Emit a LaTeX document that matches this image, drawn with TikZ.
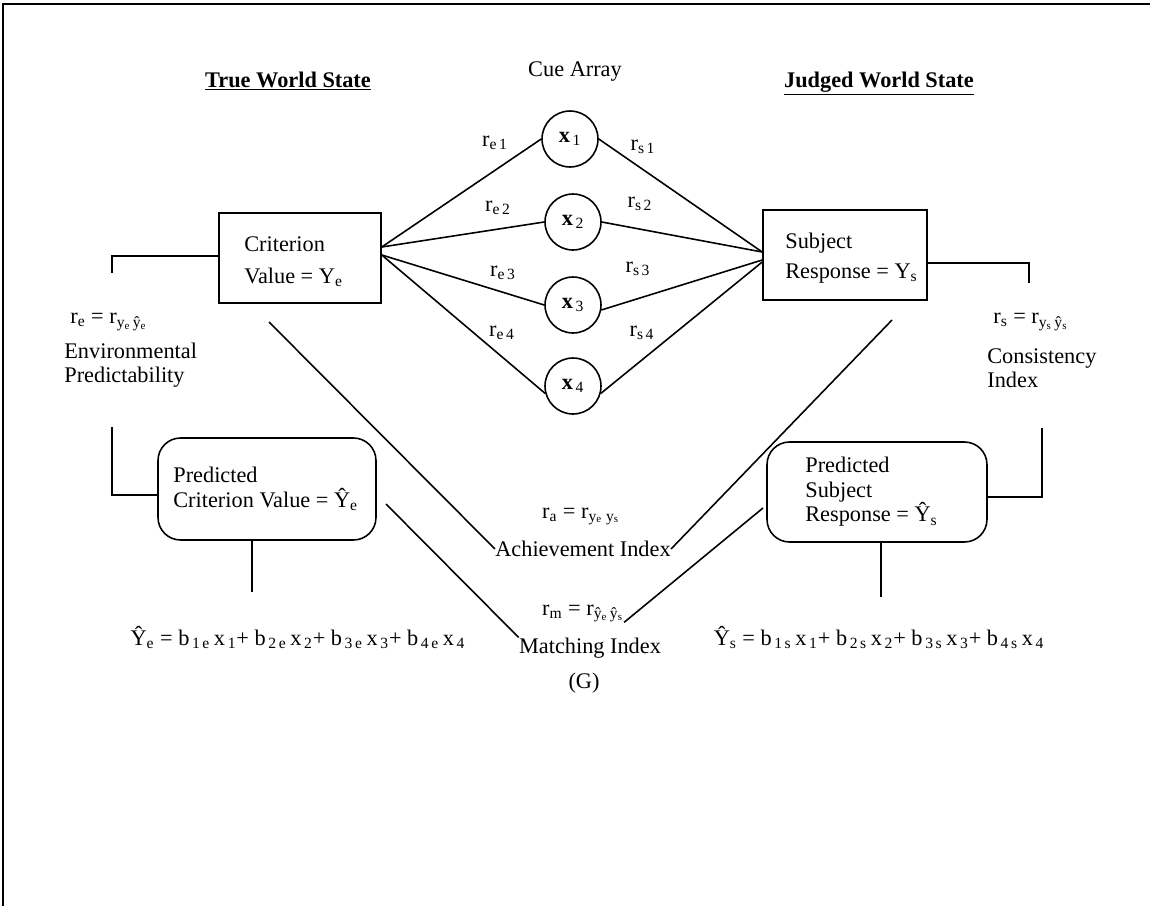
\documentclass[tikz,border=0pt]{standalone}
\usepackage{fontspec}
\setmainfont{Liberation Serif}
\newcommand{\sbs}[1]{\textsubscript{#1}}
\begin{document}
\begin{tikzpicture}[x=0.02cm,y=-0.02cm,
  every node/.style={inner sep=0pt, font=\fontsize{12.7}{15}\selectfont},
  ln/.style={line width=0.9pt},
  sqbox/.style={draw, line width=0.9pt, rectangle},
  rbox/.style={draw, line width=0.9pt, rectangle, rounded corners=0.45cm},
  cue/.style={draw, circle, line width=0.9pt, minimum size=1.12cm},
  hdr/.style={font=\fontsize{12.7}{15}\selectfont\bfseries},
  lbl/.style={anchor=west, align=left}]
\useasboundingbox (0,0) rectangle (1150,906);
\draw[line width=1.5pt] (3,906) -- (3,4) -- (1150,4);

% headings
\node[hdr, anchor=base] (tws) at (288,87) {\underline{True World State}};
\node[hdr, anchor=base] (jws) at (879,87) {\underline{Judged World State}};
\node[anchor=base] (cuearr) at (575,76) {Cue Array};

% main boxes
\node[sqbox, minimum width=3.24cm, minimum height=1.8cm] (crit) at (300,258) {};
\node[lbl, font=\fontsize{12.7}{18}\selectfont] (crittxt) at (244,262) {Criterion\\Value = Y\sbs{e}};
\node[sqbox, minimum width=3.28cm, minimum height=1.8cm] (subj) at (845,255) {};
\node[lbl, font=\fontsize{12.7}{17}\selectfont] (subjtxt) at (785,258) {Subject\\Response = Y\sbs{s}};

% cues
\node[cue] (x1) at (570,139) {\textbf{x}\sbs{\,1}};
\node[cue] (x2) at (573,222) {\textbf{x}\sbs{\,2}};
\node[cue] (x3) at (573,305) {\textbf{x}\sbs{\,3}};
\node[cue] (x4) at (573,386) {\textbf{x}\sbs{\,4}};

\draw[ln] ([yshift=0.22cm]crit.east) -- (x1.west);
\draw[ln] ([yshift=0.22cm]crit.east) -- (x2.west);
\draw[ln] ([yshift=0.06cm]crit.east) -- (x3.west);
\draw[ln] ([yshift=0.06cm]crit.east) -- (x4.195);
\draw[ln] (x1.east) -- ([yshift=0.06cm]subj.west);
\draw[ln] (x2.east) -- ([yshift=0.06cm]subj.west);
\draw[ln] (x3.-10) -- ([yshift=-0.1cm]subj.west);
\draw[ln] (x4.-15) -- ([yshift=-0.14cm]subj.west);

\node (re1) at (495,143) {r\sbs{e\,1}};
\node (re2) at (498,208) {r\sbs{e\,2}};
\node (re3) at (503,273) {r\sbs{e\,3}};
\node (re4) at (502,333) {r\sbs{e\,4}};
\node (rs1) at (643,147) {r\sbs{s\,1}};
\node (rs2) at (640,204) {r\sbs{s\,2}};
\node (rs3) at (638,269) {r\sbs{s\,3}};
\node (rs4) at (642,333) {r\sbs{s\,4}};

% side texts
\node[lbl] (retxt) at (70,322) {r\sbs{e} = r\sbs{y\sbs{e}\,\^{y}\sbs{e}}};
\node[lbl, font=\fontsize{12.7}{13.6}\selectfont] (envtxt) at (64,365) {Environmental\\Predictability};
\node[lbl] (rstxt) at (993,322) {r\sbs{s} = r\sbs{y\sbs{s}\,\^{y}\sbs{s}}};
\node[lbl, font=\fontsize{12.7}{13.4}\selectfont] (constxt) at (987,368) {Consistency\\Index};

% predicted boxes
\node[rbox, minimum width=4.36cm, minimum height=2.04cm] (predc) at (267,489) {};
\node[lbl, font=\fontsize{12.7}{14}\selectfont] (predctxt) at (173,489) {Predicted\\Criterion Value = \^{Y}\sbs{e}};
\node[rbox, minimum width=4.4cm, minimum height=2cm] (preds) at (877,492) {};
\node[lbl, font=\fontsize{12.7}{14}\selectfont] (predstxt) at (805,492) {Predicted\\Subject\\Response = \^{Y}\sbs{s}};

% side connectors
\coordinate (lt1) at (112,273);
\draw[ln] ([yshift=0.04cm]crit.west) -| (lt1);
\coordinate (lt2) at (112,427);
\draw[ln] (lt2) |- ([yshift=-0.12cm]predc.west);
\coordinate (lb) at (252,592);
\draw[ln] (predc.south -| lb) -- (lb);
\coordinate (rt1) at (1029,283);
\draw[ln] ([yshift=-0.16cm]subj.east) -| (rt1);
\coordinate (rt2) at (1042,428);
\draw[ln] (rt2) |- ([yshift=-0.1cm]preds.east);
\coordinate (rb) at (881,597);
\draw[ln] (preds.south -| rb) -- (rb);

% middle indices
\node[anchor=base] (ra) at (581,518) {r\sbs{a} = r\sbs{y\sbs{e}\ y\sbs{s}}};
\node (achidx) at (583,549) {Achievement Index};
\coordinate (a1) at (269,322);
\coordinate (a2) at (892,320);
\draw[ln] (a1) -- (achidx.west);
\draw[ln] (a2) -- (achidx.east);
\node[anchor=base] (rm) at (583,615) {r\sbs{m} = r\sbs{\^{y}\sbs{e}\,\^{y}\sbs{s}}};
\node (matchidx) at (590,648) {Matching Index};
\node (g) at (584,683) {(G)};
\coordinate (m1) at (386,504);
\coordinate (m2) at (763,508);
\draw[ln] (m1) -- (matchidx.north west);
\draw[ln] (m2) -- (rm.south east);

% regression formulas
\node[anchor=base] (fe) at (298,645) {\^{Y}\sbs{e}\ = b\sbs{\,1\,e}\,x\sbs{\,1}+ b\sbs{\,2\,e}\,x\sbs{\,2}+ b\sbs{\,3\,e}\,x\sbs{\,3}+ b\sbs{\,4\,e}\,x\sbs{\,4}};
\node[anchor=base] (fs) at (879,645) {\^{Y}\sbs{s}\ = b\sbs{\,1\,s}\,x\sbs{\,1}+ b\sbs{\,2\,s}\,x\sbs{\,2}+ b\sbs{\,3\,s}\,x\sbs{\,3}+ b\sbs{\,4\,s}\,x\sbs{\,4}};
\end{tikzpicture}
\end{document}
